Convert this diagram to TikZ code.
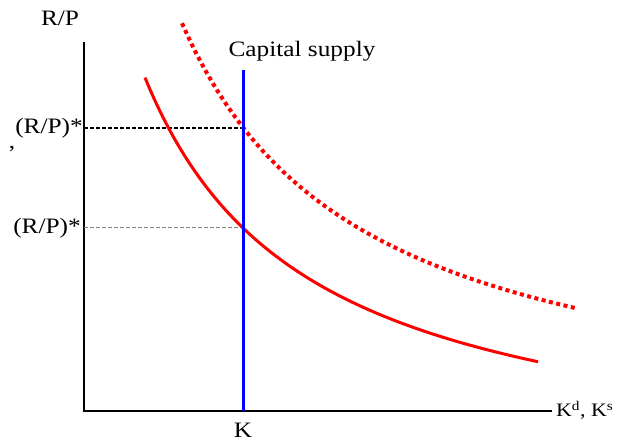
\documentclass[tikz,border=0pt]{standalone}
\usepackage{fontspec}
\setmainfont[FakeStretch=1.15]{Liberation Serif}
\begin{document}
\begin{tikzpicture}[x=1pt,y=1pt,
  axis/.style={line width=2pt,black},
  lbl/.style={font=\fontsize{22}{26}\selectfont,inner sep=0pt},
  demand/.style={line width=3pt,red},
  demandshift/.style={line width=4pt,red,dash pattern=on 4pt off 3.5pt},
  supply/.style={line width=3pt,blue},
  guideA/.style={line width=1.3pt,black,dash pattern=on 4pt off 2pt},
  guideB/.style={line width=1pt,gray,dash pattern=on 4pt off 2pt}]
\useasboundingbox (-84,-30) rectangle (533,441-30);
% axes
\coordinate (O) at (0,0);
\coordinate (ytop) at (0,369);
\coordinate (xend) at (468,0);
\draw[axis] (ytop) -- (O) -- (xend);
% key points
\coordinate (K) at (159,0);
\coordinate (Stop) at (159,341);
\coordinate (E1) at (159,183);
\coordinate (E2) at (159,283);
\coordinate (Y1) at (0,183);
\coordinate (Y2) at (0,283);
% guides
\draw[guideA] (Y2) -- (E2);
\draw[guideB] (Y1) -- (E1);
% curves
\draw[demand] plot[domain=61:454,samples=80] (\x,{665.5/((\x+104)/100)-70});
\draw[demandshift] plot[domain=98:493,samples=80] (\x,{767/((\x+85.6)/100)-30});
% supply
\draw[supply] (K) -- (Stop);
% labels
\node[lbl] (lRP) at (-24,393) {R/P};
\node[lbl,anchor=east] (lY2) at (-1,283) {(R/P)*};
\node[lbl] (lcomma) at (-72,262) {,};
\node[lbl,anchor=east] (lY1) at (-3,183) {(R/P)*};
\node[lbl] (lK) at (159,-19) {K};
\node[lbl,font=\fontsize{19}{23}\selectfont,anchor=west] (lKd) at (472,1) {K\textsuperscript{d}, K\textsuperscript{s}};
\node[lbl] (lCS) at (218,360) {Capital supply};
\end{tikzpicture}
\end{document}
